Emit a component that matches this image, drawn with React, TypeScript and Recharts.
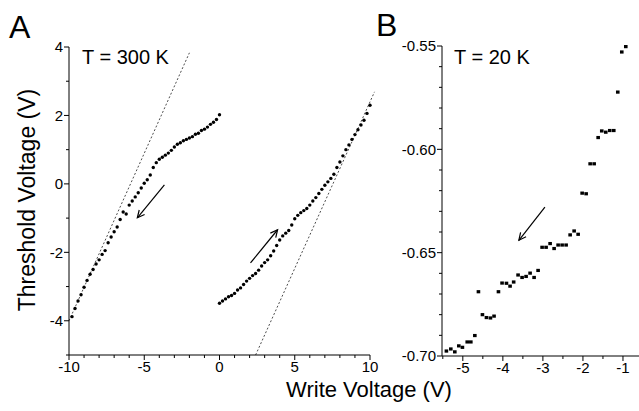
import React from "react";
import { ScatterChart, Scatter, XAxis, YAxis, ReferenceLine } from "recharts";

// panel A, 300 K: sweep from 0 V down to -10 V
const downWrite = [0, -0.2, -0.4, -0.6, -0.8, -1, -1.2, -1.4, -1.6, -1.8, -2, -2.2, -2.4, -2.6, -2.8, -3, -3.2, -3.4, -3.6, -3.8, -4, -4.2, -4.4, -4.6, -4.8, -5, -5.2, -5.4, -5.6, -5.8, -6, -6.2, -6.4, -6.6, -6.8, -7, -7.2, -7.4, -7.6, -7.8, -8, -8.2, -8.4, -8.6, -8.8, -9, -9.2, -9.4, -9.6, -9.8];
const downThreshold = [2.02, 1.88, 1.8, 1.74, 1.66, 1.6, 1.56, 1.48, 1.45, 1.38, 1.34, 1.3, 1.26, 1.2, 1.16, 1.08, 0.98, 0.9, 0.84, 0.78, 0.72, 0.62, 0.48, 0.26, 0.12, 0.02, -0.12, -0.26, -0.38, -0.5, -0.62, -0.88, -0.82, -1.04, -1.26, -1.4, -1.55, -1.72, -1.95, -2.06, -2.22, -2.34, -2.5, -2.64, -2.82, -3.02, -3.24, -3.42, -3.64, -3.88];

// panel A, 300 K: sweep from 0 V up to +10 V
const upWrite = [0, 0.2, 0.4, 0.6, 0.8, 1, 1.2, 1.4, 1.6, 1.8, 2, 2.2, 2.4, 2.6, 2.8, 3, 3.2, 3.4, 3.6, 3.8, 4, 4.2, 4.4, 4.6, 4.8, 5, 5.2, 5.4, 5.6, 5.8, 6, 6.2, 6.4, 6.6, 6.8, 7, 7.2, 7.4, 7.6, 7.8, 8, 8.2, 8.4, 8.6, 8.8, 9, 9.2, 9.4, 9.6, 9.8, 10];
const upThreshold = [-3.49, -3.42, -3.36, -3.3, -3.26, -3.2, -3.1, -3.04, -2.94, -2.84, -2.76, -2.68, -2.62, -2.52, -2.4, -2.3, -2.22, -2.1, -1.96, -1.8, -1.64, -1.52, -1.44, -1.36, -1.2, -1.02, -0.92, -0.84, -0.78, -0.72, -0.62, -0.5, -0.4, -0.28, -0.16, -0.04, 0.06, 0.16, 0.28, 0.48, 0.64, 0.82, 1, 1.14, 1.3, 1.44, 1.58, 1.72, 1.86, 2.06, 2.3];

// panel B, 20 K
const coldWrite = [-5.41, -5.3, -5.2, -5.1, -5.01, -4.89, -4.8, -4.7, -4.61, -4.51, -4.41, -4.31, -4.22, -4.11, -4.02, -3.91, -3.82, -3.73, -3.62, -3.52, -3.42, -3.32, -3.22, -3.12, -3.02, -2.92, -2.82, -2.72, -2.62, -2.52, -2.42, -2.32, -2.22, -2.12, -2.02, -1.92, -1.82, -1.72, -1.62, -1.53, -1.43, -1.33, -1.23, -1.13, -1.03, -0.93];
const coldThreshold = [-0.6976, -0.6966, -0.698, -0.6951, -0.6958, -0.6932, -0.6932, -0.6901, -0.6689, -0.68, -0.6814, -0.6816, -0.6807, -0.6689, -0.6647, -0.6648, -0.6662, -0.6642, -0.6608, -0.662, -0.6615, -0.6599, -0.662, -0.6586, -0.6474, -0.6474, -0.6456, -0.648, -0.6463, -0.6463, -0.6463, -0.6414, -0.6395, -0.6411, -0.6212, -0.6215, -0.607, -0.607, -0.5943, -0.5911, -0.5917, -0.5909, -0.5909, -0.5723, -0.5529, -0.5503];

// ticks (every value gets a tick mark, only some are labelled)
const aXTicks = [-10, -9, -8, -7, -6, -5, -4, -3, -2, -1, 0, 1, 2, 3, 4, 5, 6, 7, 8, 9, 10];
const aYTicks = [-5, -4, -3, -2, -1, 0, 1, 2, 3, 4];
const bXTicks = [-5.5, -5, -4.5, -4, -3.5, -3, -2.5, -2, -1.5, -1];
const bYTicks = [-0.7, -0.69, -0.68, -0.67, -0.66, -0.65, -0.64, -0.63, -0.62, -0.61, -0.6, -0.59, -0.58, -0.57, -0.56, -0.55];

const toPoints = (xs: number[], ys: number[]) => xs.map((x, i) => ({ x, y: ys[i] }));
const downData = toPoints(downWrite, downThreshold);
const upData = toPoints(upWrite, upThreshold);
const coldData = toPoints(coldWrite, coldThreshold);

const FONT = "'Liberation Sans', Arial, sans-serif";
const TICK_FS = 15;

const makeXTick = (isMajor: (v: number) => boolean, fmt: (v: number) => string) => (props: any) => {
  const { x, y, payload } = props;
  const major = isMajor(payload.value);
  return (
    <g>
      <line x1={x} x2={x} y1={y} y2={y + (major ? 5 : 3)} stroke="#000" strokeWidth={1} />
      {major && (
        <text x={x} y={y + 6 + TICK_FS * 0.72} textAnchor="middle" fontSize={TICK_FS} fontFamily={FONT} fill="#000">
          {fmt(payload.value)}
        </text>
      )}
    </g>
  );
};

const makeYTick = (isMajor: (v: number) => boolean, fmt: (v: number) => string) => (props: any) => {
  const { x, y, payload } = props;
  const major = isMajor(payload.value);
  return (
    <g>
      <line x1={x - (major ? 5 : 3)} x2={x} y1={y} y2={y} stroke="#000" strokeWidth={1} />
      {major && (
        <text x={x - 6} y={y + TICK_FS * 0.36} textAnchor="end" fontSize={TICK_FS} fontFamily={FONT} fill="#000">
          {fmt(payload.value)}
        </text>
      )}
    </g>
  );
};

const Arrow = (props: any) => {
  const { x1, y1, x2, y2 } = props;
  const ang = Math.atan2(y2 - y1, x2 - x1);
  const len = 8;
  const spread = 0.45;
  const ax = x2 - len * Math.cos(ang - spread);
  const ay = y2 - len * Math.sin(ang - spread);
  const bx = x2 - len * Math.cos(ang + spread);
  const by = y2 - len * Math.sin(ang + spread);
  return (
    <g stroke="#000" strokeWidth={1.2} fill="none">
      <line x1={x1} y1={y1} x2={x2} y2={y2} />
      <polyline points={`${ax},${ay} ${x2},${y2} ${bx},${by}`} />
    </g>
  );
};

const roundDot = (p: any) => <circle cx={p.cx} cy={p.cy} r={1.7} fill="#000" />;
const squareDot = (p: any) => <rect x={p.cx - 1.8} y={p.cy - 1.6} width={3.6} height={3.2} fill="#000" />;

const label = (text: string, left: number, top: number, size: number) => (
  <div style={{ position: "absolute", left, top, fontSize: size, lineHeight: 1, fontFamily: FONT, whiteSpace: "nowrap", color: "#000" }}>
    {text}
  </div>
);

export default function App() {
  return (
    <div style={{ position: "absolute", left: 0, top: 0, width: 639, height: 411, background: "#fff", overflow: "hidden" }}>
      <div style={{ position: "absolute", left: 0, top: 0 }}>
        <ScatterChart width={380} height={411} margin={{ top: 47, right: 10, bottom: 26, left: 29 }}>
          <XAxis
            type="number"
            dataKey="x"
            domain={[-10, 10]}
            ticks={aXTicks}
            interval={0}
            tickSize={0}
            tickMargin={0}
            height={30}
            axisLine={{ stroke: "#000" }}
            tickLine={false}
            tick={makeXTick((v) => v % 5 === 0, (v) => String(v))}
          />
          <YAxis
            type="number"
            dataKey="y"
            domain={[-5, 4]}
            ticks={aYTicks}
            interval={0}
            tickSize={0}
            tickMargin={0}
            width={40}
            axisLine={{ stroke: "#000" }}
            tickLine={false}
            tick={makeYTick((v) => v % 2 === 0 && v > -5, (v) => String(v))}
          />
          <ReferenceLine segment={[{ x: -10, y: -4 }, { x: -2, y: 3.83 }]} stroke="#000" strokeWidth={0.7} strokeDasharray="2 2" ifOverflow="visible" />
          <ReferenceLine segment={[{ x: 2.4, y: -5 }, { x: 10.3, y: 2.69 }]} stroke="#000" strokeWidth={0.7} strokeDasharray="2 2" ifOverflow="visible" />
          <ReferenceLine segment={[{ x: -3.66, y: -0.03 }, { x: -5.46, y: -0.99 }]} shape={Arrow} ifOverflow="visible" />
          <ReferenceLine segment={[{ x: 2.06, y: -2.31 }, { x: 3.86, y: -1.34 }]} shape={Arrow} ifOverflow="visible" />
          <Scatter data={downData} dataKey="y" shape={roundDot} isAnimationActive={false} />
          <Scatter data={upData} dataKey="y" shape={roundDot} isAnimationActive={false} />
        </ScatterChart>
      </div>
      <div style={{ position: "absolute", left: 380, top: 0 }}>
        <ScatterChart width={259} height={411} margin={{ top: 46, right: 0, bottom: 25, left: 0 }}>
          <XAxis
            type="number"
            dataKey="x"
            domain={[-5.52, -0.6]}
            ticks={bXTicks}
            interval={0}
            tickSize={0}
            tickMargin={0}
            height={30}
            axisLine={{ stroke: "#000" }}
            tickLine={false}
            tick={makeXTick((v) => Number.isInteger(v), (v) => String(v))}
          />
          <YAxis
            type="number"
            dataKey="y"
            domain={[-0.7, -0.55]}
            ticks={bYTicks}
            interval={0}
            tickSize={0}
            tickMargin={0}
            width={62}
            axisLine={{ stroke: "#000" }}
            tickLine={false}
            tick={makeYTick((v) => Math.round(v * 100) % 5 === 0, (v) => v.toFixed(2))}
          />
          <ReferenceLine segment={[{ x: -2.95, y: -0.628 }, { x: -3.6, y: -0.644 }]} shape={Arrow} ifOverflow="visible" />
          <Scatter data={coldData} dataKey="y" shape={squareDot} isAnimationActive={false} />
        </ScatterChart>
      </div>

      {label("A", 9, 11, 32)}
      {label("B", 376, 9, 32)}
      {label("T = 300 K", 82, 47, 20)}
      {label("T = 20 K", 454, 47, 20)}
      <div
        style={{
          position: "absolute",
          left: 369,
          top: 390,
          transform: "translate(-50%, -50%)",
          fontSize: 22,
          lineHeight: 1,
          fontFamily: FONT,
          whiteSpace: "nowrap",
        }}
      >
        Write Voltage (V)
      </div>
      <div
        style={{
          position: "absolute",
          left: 27,
          top: 200,
          transform: "translate(-50%, -50%) rotate(-90deg)",
          fontSize: 23,
          lineHeight: 1,
          fontFamily: FONT,
          whiteSpace: "nowrap",
        }}
      >
        Threshold Voltage (V)
      </div>
    </div>
  );
}
